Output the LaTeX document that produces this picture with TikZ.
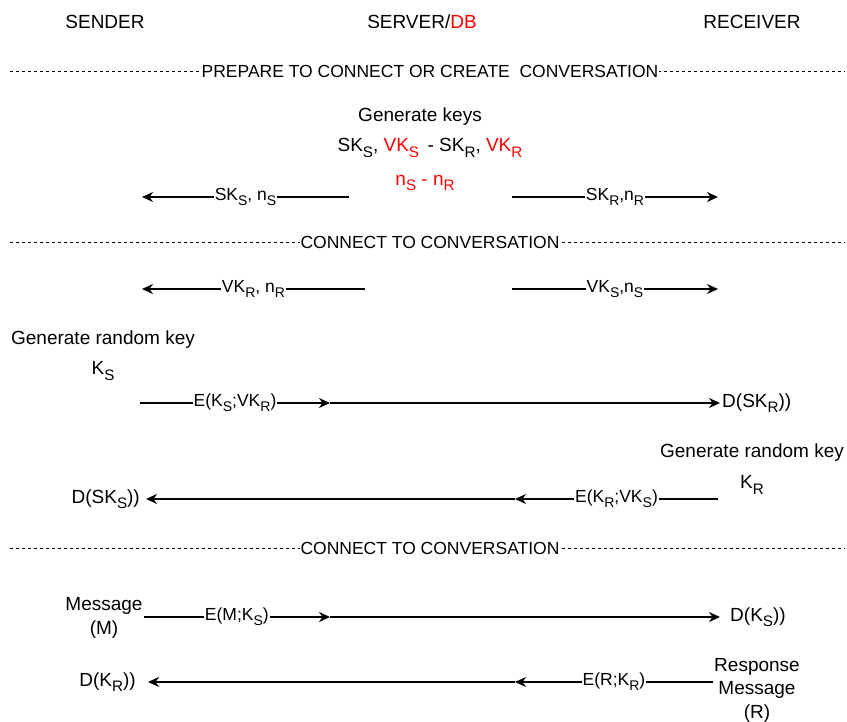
\documentclass[tikz,border=0pt]{standalone}
\usepackage{fontspec}
\setmainfont{Liberation Sans}
\usetikzlibrary{arrows.meta}
\newcommand{\lo}[1]{\raisebox{-.28em}{\scalebox{.8}{#1}}}

\tikzset{
    actor/.style={font=\fontsize{19}{21}\selectfont},
    note/.style={font=\fontsize{19}{23.5}\selectfont, align=center},
    phase/.style={fill=white, inner xsep=1pt, inner ysep=2pt, font=\fontsize{17.5}{19}\selectfont},
    lbl/.style={fill=white, inner xsep=1pt, inner ysep=2pt, font=\fontsize{17.5}{19}\selectfont},
    phaseline/.style={dash pattern=on 3pt off 3pt, line width=0.8pt},
    tip/.style={-{Stealth[length=11pt, width=10pt, inset=3.5pt]}},
    msg/.style={line width=1.5pt, tip},
    plain/.style={line width=1.5pt},
}

\begin{document}
\begin{tikzpicture}[x=1pt, y=-1pt]
    \useasboundingbox (0,0) rectangle (847,722);

    \node[actor] (sender) at (105, 22) {SENDER};
    \node[actor] (server) at (422, 22) {SERVER/{\color{red}DB}};
    \node[actor] (receiver) at (752, 22) {RECEIVER};

    % prepare
    \coordinate (p1l) at (10, 71);
    \coordinate (p1r) at (845, 71);
    \draw[phaseline] (p1l) -- (p1r);
    \node[phase] (prepare) at (430, 71) {PREPARE TO CONNECT OR CREATE \ CONVERSATION};

    \node[note] (genkeys) at (420, 117) {Generate keys};
    \node[note] (keys) at (430, 148) {SK\lo{S}, {\color{red}VK\lo{S}} \,- SK\lo{R}, {\color{red}VK\lo{R}}};
    \node[note, red] (nonces) at (425, 183) {n\lo{S} - n\lo{R}};

    \coordinate (a1) at (349, 197);
    \coordinate (b1) at (142, 197);
    \coordinate (c1) at (512, 197);
    \coordinate (d1) at (718, 197);
    \draw[msg] (a1) -- node[lbl] (sks) {SK\lo{S}, n\lo{S}} (b1);
    \draw[msg] (c1) -- node[lbl] (skr) {SK\lo{R},n\lo{R}} (d1);

    % connect
    \coordinate (p2l) at (10, 242);
    \coordinate (p2r) at (845, 242);
    \draw[phaseline] (p2l) -- (p2r);
    \node[phase] (connect) at (430, 242) {CONNECT TO CONVERSATION};

    \coordinate (a2) at (365, 289);
    \coordinate (b2) at (142, 289);
    \coordinate (c2) at (512, 289);
    \coordinate (d2) at (718, 289);
    \draw[msg] (a2) -- node[lbl] (vkr) {VK\lo{R}, n\lo{R}} (b2);
    \draw[msg] (c2) -- node[lbl] (vks) {VK\lo{S},n\lo{S}} (d2);

    \node[note] (genks) at (103, 340) {Generate random key};
    \node[note] (ks) at (103, 371) {K\lo{S}};
    \coordinate (a3) at (140, 403);
    \coordinate (m3) at (330, 403);
    \node[note, anchor=west, inner xsep=2pt] (dskr) at (720, 403) {D(SK\lo{R}))};
    \draw[msg] (a3) -- node[lbl] (eks) {E(K\lo{S};VK\lo{R})} (m3);
    \draw[msg] (m3) -- (dskr.west);

    \node[note] (genkr) at (752, 453) {Generate random key};
    \node[note] (kr) at (752, 485) {K\lo{R}};
    \coordinate (a4) at (718, 499);
    \coordinate (m4) at (515, 499);
    \node[note, anchor=east, inner xsep=6pt] (dsks) at (146, 499) {D(SK\lo{S}))};
    \draw[msg] (a4) -- node[lbl] (ekr) {E(K\lo{R};VK\lo{S})} (m4);
    \draw[msg] (m4) -- (dsks.east);

    % connect again
    \coordinate (p3l) at (10, 548);
    \coordinate (p3r) at (845, 548);
    \draw[phaseline] (p3l) -- (p3r);
    \node[phase] (connect2) at (430, 548) {CONNECT TO CONVERSATION};

    \node[note, inner xsep=1pt] (msgm) at (104, 618) {Message\\(M)};
    \coordinate (m5) at (330, 617);
    \node[note, anchor=west, inner xsep=10pt] (dks) at (720, 617) {D(K\lo{S}))};
    \draw[plain, tip] (msgm.east |- m5) -- node[lbl] (em) {E(M;K\lo{S})} (m5);
    \draw[msg] (m5) -- (dks.west);

    \node[note, inner xsep=1pt] (resp) at (757, 690) {Response\\Message\\(R)};
    \coordinate (m6) at (515, 682);
    \node[note, anchor=east, inner xsep=12pt] (dkr) at (148, 682) {D(K\lo{R}))};
    \draw[msg] (resp.west |- m6) -- node[lbl] (er) {E(R;K\lo{R})} (m6);
    \draw[msg] (m6) -- (dkr.east);
\end{tikzpicture}
\end{document}
